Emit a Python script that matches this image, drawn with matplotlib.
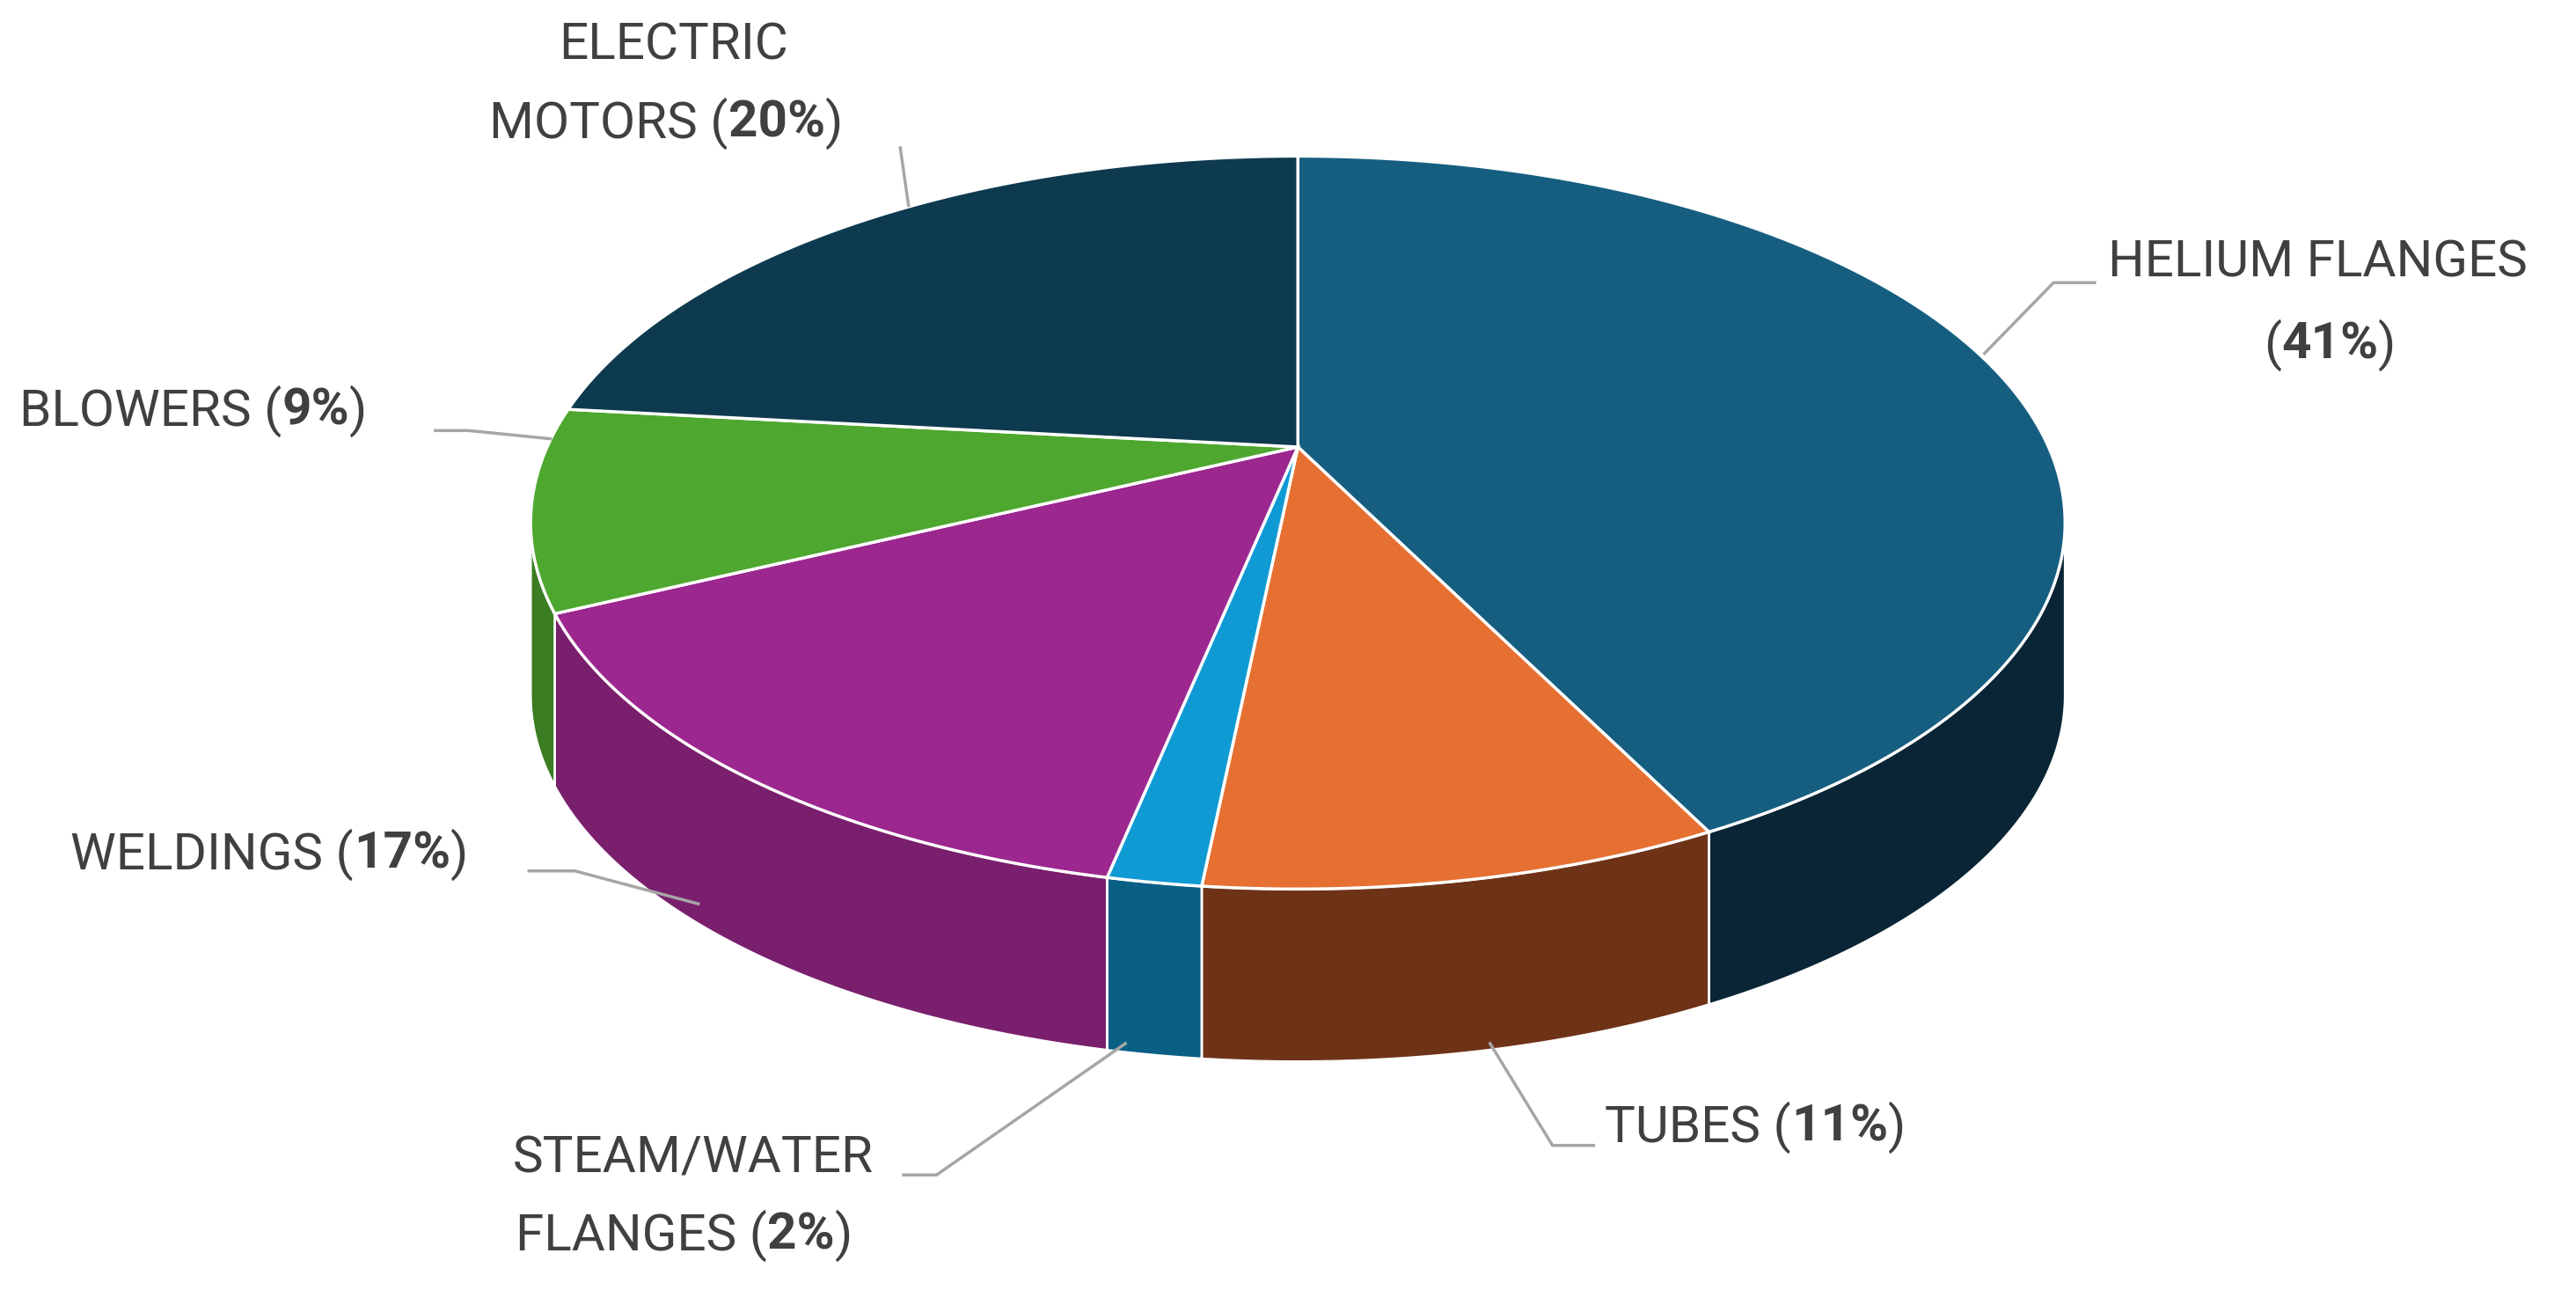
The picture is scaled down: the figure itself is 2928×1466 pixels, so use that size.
import numpy as np
import matplotlib
matplotlib.use("Agg")
import matplotlib.pyplot as plt
from matplotlib.patches import Polygon

categories = ["HELIUM FLANGES", "TUBES", "STEAM/WATER FLANGES", "WELDINGS", "BLOWERS", "ELECTRIC MOTORS"]
values = [41, 11, 2, 17, 9, 20]
top_colors = ["#165e80", "#e67032", "#0f9ad4", "#9c278f", "#4ea72e", "#0e3a4f"]
side_colors = ["#0a2535", "#6e3317", "#0a5f85", "#7a1f6e", "#3a7d22", "#0a2a3a"]

W, H = 1568, 785
fig = plt.figure(figsize=(29.28, 14.66), dpi=100)
ax = fig.add_axes([0, 0, 1, 1])
ax.set_xlim(0, W); ax.set_ylim(H, 0); ax.axis("off")

cx, cy, rx, ry, depth = 790, 318, 467, 223, 105
apex = (790, 272)
tot = sum(values)
cum = np.concatenate([[0], np.cumsum(values)])
starts = 90 - 360 * cum[:-1] / tot
ends = 90 - 360 * cum[1:] / tot

def pt(t):
    r = np.radians(t)
    return cx + rx * np.cos(r), cy - ry * np.sin(r)

for s, e, c in zip(starts, ends, side_colors):
    for off in (0, -360, 360):
        a, b = max(e + off, -180), min(s + off, 0)
        if b > a:
            ts = np.linspace(b, a, 100)
            xs, ys = pt(ts)
            poly = list(zip(xs, ys)) + list(zip(xs[::-1], ys[::-1] + depth))
            ax.add_patch(Polygon(poly, closed=True, fc=c, ec="white", lw=2))
for s, e, c in zip(starts, ends, top_colors):
    ts = np.linspace(s, e, 200)
    xs, ys = pt(ts)
    poly = [apex] + list(zip(xs, ys))
    ax.add_patch(Polygon(poly, closed=True, fc=c, ec="white", lw=2.5))

fig.canvas.draw()
rend = fig.canvas.get_renderer()
FS = 42
FAM = "Roboto"

def seg_line(x, y, segs):
    for txt, bold in segs:
        t = ax.text(x, y, txt, fontsize=FS, family=FAM, fontweight="bold" if bold else "normal",
                    color="#404040", va="center", ha="left")
        bb = t.get_window_extent(renderer=rend)
        x0 = ax.transData.inverted().transform((bb.x0, bb.y0))[0]
        x1 = ax.transData.inverted().transform((bb.x1, bb.y0))[0]
        x += x1 - x0

def lab(x, y, name, pct):
    seg_line(x, y, [(name + " (", False), (f"{pct}%", True), (")", False)])

def line(pts):
    xs, ys = zip(*pts)
    ax.plot(xs, ys, color="#a6a6a6", lw=2.5)

seg_line(340, 28, [("ELECTRIC", False)])
lab(298, 75, "MOTORS", values[5])
line([(548, 90), (553, 125)])

seg_line(1283, 160, [("HELIUM FLANGES", False)])
seg_line(1378, 210, [("(", False), (f"{values[0]}%", True), (")", False)])
line([(1208, 215), (1250, 172), (1275, 172)])

lab(12, 250, "BLOWERS", values[4])
line([(265, 262), (285, 262), (335, 267)])

lab(43, 520, "WELDINGS", values[3])
line([(322, 530), (350, 530), (425, 550)])

seg_line(312, 705, [("STEAM/WATER", False)])
lab(314, 752, "FLANGES", values[2])
line([(550, 715), (570, 715), (685, 635)])

lab(977, 686, "TUBES", values[1])
line([(970, 697), (945, 697), (907, 635)])

fig.savefig("out.png", dpi=100, facecolor="white")
